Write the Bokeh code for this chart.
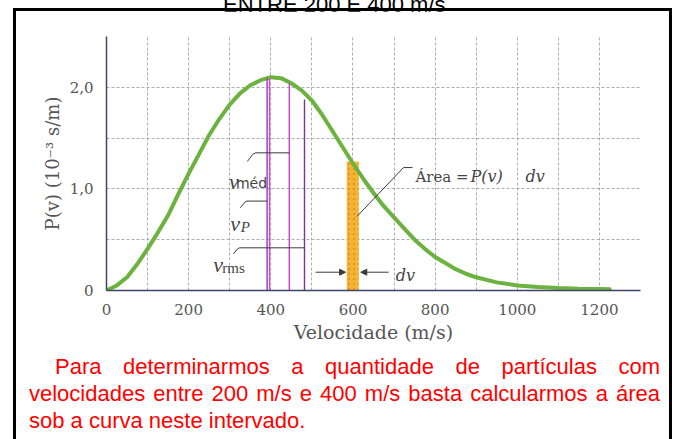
from bokeh.plotting import figure
from bokeh.models import Range1d, FixedTicker, Label, Arrow, NormalHead, Div
from bokeh.layouts import column
from bokeh.embed import file_html
from bokeh.resources import INLINE

# ---------------- data ----------------
velocidade = [0, 25, 50, 75, 100, 125, 150, 175, 200, 225, 250, 275, 300, 325,
              350, 375, 400, 425, 450, 475, 500, 525, 550, 575, 600, 625, 650,
              675, 700, 725, 750, 775, 800, 825, 850, 875, 900, 950, 1000,
              1050, 1100, 1150, 1200, 1225]
prob = [0.0, 0.05, 0.13, 0.26, 0.41, 0.57, 0.74, 0.95, 1.15, 1.34, 1.53, 1.69,
        1.83, 1.94, 2.02, 2.07, 2.10, 2.09, 2.04, 1.97, 1.87, 1.73, 1.57, 1.41,
        1.25, 1.10, 0.96, 0.83, 0.72, 0.61, 0.50, 0.41, 0.33, 0.27, 0.21,
        0.165, 0.13, 0.08, 0.05, 0.035, 0.025, 0.018, 0.015, 0.013]

x_ticks = [0, 200, 400, 600, 800, 1000, 1200]
y_ticks = [0, 1, 2]
y_tick_labels = {0: "0", 1: "1,0", 2: "2,0"}

mark_v = [391, 397, 445, 482]          # v_P (double line), v_med, v_rms
mark_top = [2.09, 2.09, 2.04, 1.88]
mark_col = ["#8d3cb8", "#e03ee0", "#d23cd2", "#6e3c8e"]

strip_left, strip_right, strip_top = 585, 614, 1.27   # dv strip near 600 m/s

title_text = "ENTRE 200 E 400 m/s"
note_text = ("Para determinarmos a quantidade de partículas com velocidades "
             "entre 200 m/s e 400 m/s basta calcularmos a área sob a curva "
             "neste intervado.")

FS = "DejaVu Serif"
TS = "Liberation Serif"

p = figure(width=653, height=334, output_backend="svg", toolbar_location=None,
           x_range=Range1d(0, 1300), y_range=Range1d(0, 2.5),
           min_border_left=90, min_border_right=29, min_border_top=25,
           min_border_bottom=54, background_fill_color="white",
           border_fill_color="white", outline_line_color=None)

# grids
p.xgrid.ticker = FixedTicker(ticks=list(range(100, 1301, 100)))
p.ygrid.ticker = FixedTicker(ticks=[0.5, 1.0, 1.5, 2.0, 2.5])
for g in (p.xgrid, p.ygrid):
    g.grid_line_color = "#9d9dae"
    g.grid_line_dash = "3 2"
    g.grid_line_alpha = 0.85
    g.grid_line_width = 1

# axes
p.xaxis.ticker = FixedTicker(ticks=x_ticks)
p.yaxis.ticker = FixedTicker(ticks=y_ticks)
p.yaxis.major_label_overrides = y_tick_labels
for ax in (p.xaxis, p.yaxis):
    ax.axis_line_color = "#3d4466"
    ax.axis_line_width = 1.5
    ax.major_tick_line_color = None
    ax.minor_tick_line_color = None
    ax.major_label_text_font = FS
    ax.major_label_text_font_size = "15px"
    ax.major_label_text_color = "#555555"
    ax.axis_label_text_font = FS
    ax.axis_label_text_font_style = "normal"
    ax.axis_label_text_color = "#555555"
p.xaxis.major_label_standoff = 7
p.xaxis.axis_label_standoff = 3
p.yaxis.major_label_standoff = 7
p.yaxis.axis_label_standoff = 4
p.xaxis.axis_label_text_font_size = "19px"
p.yaxis.axis_label_text_font_size = "18px"
p.xaxis.axis_label = "Velocidade (m/s)"
p.yaxis.axis_label = "P(v) (10⁻³ s/m)"

# dv strip
p.quad(left=[strip_left], right=[strip_right], bottom=[0], top=[strip_top],
       fill_color="#f4b436", line_color=None, hatch_pattern="dot",
       hatch_color="#e58a14", hatch_scale=5, hatch_alpha=0.7)

# curve
p.line(velocidade, prob, line_color="#6cb23e", line_width=4, line_cap="round")

# marker lines
p.segment(x0=mark_v, y0=[0] * len(mark_v), x1=mark_v, y1=mark_top,
          line_color=mark_col, line_width=1.4)

# leaders
lc = "#3a3a3a"
p.line([343, 356, 363, 445], [1.27, 1.34, 1.355, 1.355], line_color=lc, line_width=1)
p.line([326, 337, 342, 391], [0.815, 0.87, 0.88, 0.88], line_color=lc, line_width=1)
p.line([309, 319, 324, 482], [0.36, 0.41, 0.42, 0.42], line_color=lc, line_width=1)
p.line([610, 723, 745], [0.73, 1.21, 1.21], line_color=lc, line_width=1)

# dv arrows
for xs, xe in ((509, 582), (687, 619)):
    p.add_layout(Arrow(end=NormalHead(size=6, fill_color=lc, line_color=lc),
                       x_start=xs, y_start=0.18, x_end=xe, y_end=0.18,
                       line_color=lc, line_width=1))


def lab(x, y, t, size, style="normal", font=TS, color="#444444"):
    p.add_layout(Label(x=x, y=y, text=t, text_font=font, text_font_size=size,
                       text_font_style=style, text_color=color,
                       text_baseline="alphabetic"))


lab(298, 1.074, "v", "22px", "italic")
lab(315, 1.059, "méd", "14px", "normal", "DejaVu Sans")
lab(301, 0.66, "v", "22px", "italic")
lab(327, 0.628, "P", "15px", "italic")
lab(260, 0.259, "v", "22px", "italic")
lab(282, 0.217, "rms", "15px", "normal")
lab(752, 1.12, "Área =", "15px", "normal", FS)
lab(886, 1.12, "P(v)", "16px", "italic", FS)
lab(1020, 1.12, "dv", "16px", "italic", FS)
lab(704, 0.145, "dv", "16px", "italic", FS)

title = Div(text=('<div style="margin-top:-14px; padding-left:223px; '
                  'font-family:\'Liberation Sans\'; font-size:22px; '
                  'white-space:nowrap; color:black">' + title_text + '</div>'),
            width=660, height=8, margin=0)

note = Div(text=('<div style="padding:8px 9px 0 13px; text-align:justify; '
                 'text-indent:26px; font-family:\'Liberation Sans\'; '
                 'font-size:22px; line-height:27px; color:#ff0000">'
                 + note_text + '</div>'),
           width=653, height=94, margin=0)

box = column(p, note, spacing=0, margin=(0, 0, 0, 13),
             styles={"border-top": "3px solid black",
                     "border-left": "3px solid black",
                     "border-right": "3px solid black"})

layout = column(title, box, spacing=0, margin=0)
open("out.html", "w").write(file_html(layout, INLINE))
